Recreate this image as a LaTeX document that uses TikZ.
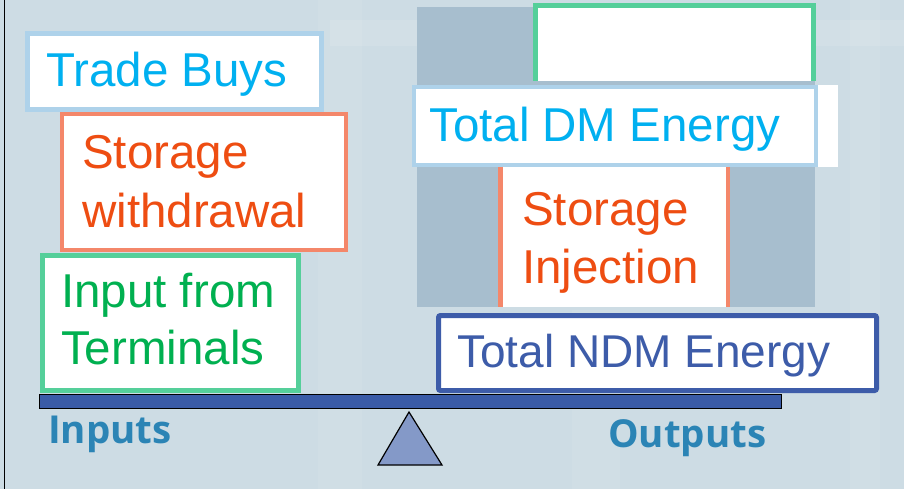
\documentclass[tikz,border=0pt]{standalone}
\usepackage{fontspec}
\setmainfont{Liberation Sans}
\newfontfamily\ioFont{Open Sans}
\definecolor{bgcol}{HTML}{CDDCE4}
\definecolor{panelcol}{HTML}{A7BECE}
\definecolor{bluebord}{HTML}{AED2EA}
\definecolor{cyantext}{HTML}{00B0F0}
\definecolor{orangebord}{HTML}{F4876A}
\definecolor{orangetext}{HTML}{EE4D12}
\definecolor{greenbord}{HTML}{55CF9A}
\definecolor{greentext}{HTML}{00B050}
\definecolor{navy}{HTML}{3D5CA9}
\definecolor{beamcol}{HTML}{3A5BA7}
\definecolor{pivotcol}{HTML}{8499C8}
\definecolor{labelcol}{HTML}{2B84B5}
\tikzset{
  boxshape/.style={rectangle, inner sep=0pt, outer sep=0pt, fill=white, anchor=north west},
  bigtext/.style={anchor=base west, inner sep=0pt, font=\fontsize{47.5}{56}\selectfont},
  sidelabel/.style={anchor=base west, inner sep=0pt, text=labelcol, font=\ioFont\bfseries\fontsize{38.5}{44}\selectfont},
}
\begin{document}
\begin{tikzpicture}[x=1pt,y=-1pt]
\useasboundingbox (0,0) rectangle (904,489);
% backdrop with faint architectural bands
\fill[bgcol] (0,0) rectangle (904,489);
\fill[white,opacity=0.10] (330,20) rectangle (904,46);
\fill[white,opacity=0.07] (318,0) rectangle (362,489);
\fill[white,opacity=0.07] (572,310) rectangle (620,489);
\fill[white,opacity=0.07] (850,0) rectangle (880,489);
\draw[black,line width=1.5pt] (4.5,0) -- (4.5,489);

% shaded panel behind the output boxes
\node[boxshape, fill=panelcol, minimum width=398pt, minimum height=300pt] (panel) at (417,7) {};

% empty box on top of the output stack
\node[boxshape, minimum width=282pt, minimum height=77pt] (topbox) at (533,4) {};
\draw[greenbord, line width=5pt] (topbox.south west) ++(2.5,0) |- ([xshift=-1.5pt,yshift=-2pt]topbox.north east) -- ([xshift=-1.5pt]topbox.south east);

% Total DM Energy
\node[boxshape, minimum width=426pt, minimum height=82pt] (dm) at (412,85) {};
\draw[bluebord, line width=4pt] (414,87) rectangle (816,165);
\node[bigtext, text=cyantext] (dmtext) at (429,142) {Total DM Energy};

% Storage Injection
\node[boxshape, minimum width=232pt, minimum height=140pt] (inj) at (498,167) {};
\draw[orangebord, line width=4.5pt] (inj.north west) ++(2.25,0) -- ++(0,140);
\draw[orangebord, line width=4.5pt] (inj.north east) ++(-2.25,0) -- ++(0,140);
\node[bigtext, text=orangetext] (injtext1) at (522,225) {Storage};
\node[bigtext, text=orangetext] (injtext2) at (522,283) {Injection};

% Total NDM Energy
\node[boxshape, draw=navy, line width=5pt, rounded corners=2pt, minimum width=438pt, minimum height=75pt] (ndm) at (438.5,315.5) {};
\node[bigtext, text=navy, font=\fontsize{46}{56}\selectfont] (ndmtext) at (457,367) {Total NDM Energy};

% input stack
\node[boxshape, draw=bluebord, line width=5pt, minimum width=294pt, minimum height=76pt] (trade) at (27.5,33.5) {};
\node[bigtext, text=cyantext] (tradetext) at (46,87) {Trade Buys};

\node[boxshape, draw=orangebord, line width=4pt, minimum width=284pt, minimum height=136pt] (withdraw) at (62,114) {};
\node[bigtext, text=orangetext] (withtext1) at (82,168) {Storage};
\node[bigtext, text=orangetext] (withtext2) at (82,227) {withdrawal};

\node[boxshape, draw=greenbord, line width=5pt, minimum width=256pt, minimum height=135pt] (term) at (42.5,255.5) {};
\node[bigtext, text=greentext] (termtext1) at (61,307) {Input from};
\node[bigtext, text=greentext] (termtext2) at (61,364) {Terminals};

% the balance: beam and pivot
\node[boxshape, fill=beamcol, draw=black, line width=1pt, minimum width=742pt, minimum height=14pt] (beam) at (39,394) {};
\coordinate (apex) at (409,412);
\coordinate (baseL) at (378,465);
\coordinate (baseR) at (442,465);
\draw[fill=pivotcol, draw=black, line width=1.2pt, line join=miter] (apex) -- (baseR) -- (baseL) -- cycle;

\node[sidelabel] (inputs) at (48,443) {Inputs};
\node[sidelabel] (outputs) at (608,447) {Outputs};
\end{tikzpicture}
\end{document}
